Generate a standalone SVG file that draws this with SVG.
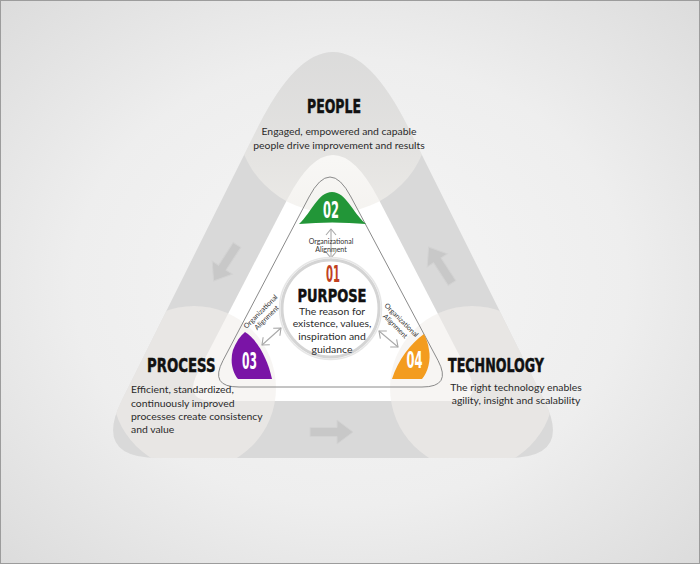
<svg xmlns="http://www.w3.org/2000/svg" width="700" height="564" viewBox="0 0 700 564">
<defs>
<style>
.h{font-family:"DejaVu Sans Condensed","DejaVu Sans","Liberation Sans",sans-serif;font-weight:bold;fill:#111;stroke:#111;stroke-width:0.45;}
.d{font-family:Lato,"Open Sans","Liberation Sans",sans-serif;font-size:10.4px;fill:#2b2b2b;}
.c{font-family:Lato,"Open Sans","Liberation Sans",sans-serif;font-size:10.4px;fill:#2b2b2b;text-anchor:middle;}
.n{font-family:"DejaVu Sans Condensed","DejaVu Sans",sans-serif;font-weight:bold;font-size:23px;fill:#fff;text-anchor:middle;}
.al{font-family:Lato,"Open Sans","Liberation Sans",sans-serif;font-size:7px;fill:#333;text-anchor:middle;}
.ar{fill:none;stroke:#a8a8a8;stroke-width:1.1;marker-start:url(#oh);marker-end:url(#oh);}
.blk{fill:#c8c8c8;stroke:#d3d3d3;stroke-width:1;}
.circ{fill:#f1efeb;fill-opacity:0.6;}
</style>
<radialGradient id="bg" cx="0.5" cy="0.5" r="0.72">
<stop offset="0" stop-color="#f6f6f6"/><stop offset="0.55" stop-color="#eeeeee"/><stop offset="1" stop-color="#dbdbdb"/>
</radialGradient>
<linearGradient id="topc" x1="0" y1="0" x2="0" y2="1">
<stop offset="0" stop-color="#f1efeb" stop-opacity="0"/><stop offset="0.5" stop-color="#f1efeb" stop-opacity="0.3"/><stop offset="1" stop-color="#f1efeb" stop-opacity="0.75"/>
</linearGradient>
<clipPath id="clipTri"><path d="M158,458 L508,458 Q573,458 544,400 L408,127 Q333,-23 258,127 L122,400 Q93,458 158,458 Z"/></clipPath>
<marker id="oh" viewBox="0 0 8 12" refX="7" refY="6" markerWidth="8" markerHeight="12" markerUnits="userSpaceOnUse" orient="auto-start-reverse">
<path d="M1,1 L7,6 L1,11" fill="none" stroke="#a8a8a8" stroke-width="1.1"/>
</marker>
<path id="blk" d="M0,-4.5 L27,-4.5 L27,-12 L43,0 L27,12 L27,4.5 L0,4.5 Z"/>
</defs>

<rect x="0" y="0" width="700" height="564" fill="url(#bg)"/>
<rect x="0.5" y="0.5" width="699" height="563" fill="none" stroke="#9c9c9c" stroke-width="1"/>

<g id="backdrop">
<path d="M158,458 L508,458 Q573,458 544,400 L408,127 Q333,-23 258,127 L122,400 Q93,458 158,458 Z" fill="#d9d9d9"/>
<path d="M213,401 L453,401 Q483,401 468,372 L378,198 Q333,112 288,198 L198,372 Q183,401 213,401 Z" fill="#ffffff"/>
<g clip-path="url(#clipTri)">
<circle cx="333" cy="116" r="97" fill="url(#topc)"/>
<circle class="circ" cx="194" cy="388" r="82"/>
<circle class="circ" cx="472" cy="388" r="82"/>
</g>
<use href="#blk" class="blk" transform="translate(237,245) rotate(123)"/>
<use href="#blk" class="blk" transform="translate(452,283) rotate(-123)"/>
<use href="#blk" class="blk" transform="translate(310,432)"/>
<path d="M309,197 Q330,157 351,197 L438,360.5 Q452,387 422,387 L239,387 Q209,387 223,360.5 Z" fill="none" stroke="#8a8a8a" stroke-width="1"/>
</g>

<g id="connectors">
<line class="ar" x1="331" y1="229" x2="331" y2="258"/>
<line class="ar" x1="262" y1="345" x2="281" y2="328"/>
<line class="ar" x1="379" y1="331" x2="398" y2="347"/>
<text class="al" x="331" y="243.5">Organizational</text>
<text class="al" x="331" y="252">Alignment</text>
<text class="al" transform="translate(260.5,311.5) rotate(-45)"><tspan x="0" y="2.5">Organizational</tspan><tspan x="0" y="11">Alignment</tspan></text>
<text class="al" transform="translate(401.5,320) rotate(45)"><tspan x="0" y="2.5">Organizational</tspan><tspan x="0" y="11">Alignment</tspan></text>
</g>

<g id="node-people">
<path d="M299,224 C312,212 318,192 332,192 C346,192 352,212 366,224 Q332,221 299,224 Z" fill="#229638"/>
<text class="n" x="331" y="218.3" textLength="16" lengthAdjust="spacingAndGlyphs">02</text>
<text class="h" x="334" y="113" font-size="19px" text-anchor="middle" textLength="54" lengthAdjust="spacingAndGlyphs">PEOPLE</text>
<text class="d" x="339" y="135" text-anchor="middle">Engaged, empowered and capable</text>
<text class="d" x="339" y="148.5" text-anchor="middle">people drive improvement and results</text>
</g>

<g id="node-process">
<path d="M245,332 C258,340 268,360 272,379 L238,379 C232,372 230,360 233,350 C236,342 240,336 245,332 Z" fill="#7a14a6"/>
<text class="n" x="249.5" y="368.5" textLength="15" lengthAdjust="spacingAndGlyphs">03</text>
<text class="h" x="147" y="371.7" font-size="19px" textLength="68.5" lengthAdjust="spacingAndGlyphs">PROCESS</text>
<text class="d" x="131" y="393.3">Efficient, standardized,</text>
<text class="d" x="131" y="406.7">continuously improved</text>
<text class="d" x="131" y="420">processes create consistency</text>
<text class="d" x="131" y="433">and value</text>
</g>

<g id="node-technology">
<path d="M424,334 C411,343 398,360 392,379 L422,379 C428,372 431,360 429,350 C428,343 426,338 424,334 Z" fill="#f39c1f"/>
<text class="n" x="414.5" y="368" textLength="16" lengthAdjust="spacingAndGlyphs">04</text>
<text class="h" x="448" y="371.7" font-size="19px" textLength="96" lengthAdjust="spacingAndGlyphs">TECHNOLOGY</text>
<text class="d" x="516" y="390.5" text-anchor="middle">The right technology enables</text>
<text class="d" x="516" y="403.5" text-anchor="middle">agility, insight and scalability</text>
</g>

<g id="node-purpose">
<circle cx="330.5" cy="308.5" r="51" fill="none" stroke="#e6e6e6" stroke-width="1.5"/>
<circle cx="330.5" cy="308.5" r="48.5" fill="#ffffff" stroke="#d4d4d4" stroke-width="3"/>
<text class="n" x="333" y="281.7" style="fill:#c1411f" textLength="14" lengthAdjust="spacingAndGlyphs">01</text>
<text class="h" x="332" y="301.5" font-size="17.5px" text-anchor="middle" textLength="69" lengthAdjust="spacingAndGlyphs">PURPOSE</text>
<text class="c" x="332" y="314.5">The reason for</text>
<text class="c" x="332" y="327.3">existence, values,</text>
<text class="c" x="332" y="340.1">inspiration and</text>
<text class="c" x="332" y="353">guidance</text>
</g>
</svg>
